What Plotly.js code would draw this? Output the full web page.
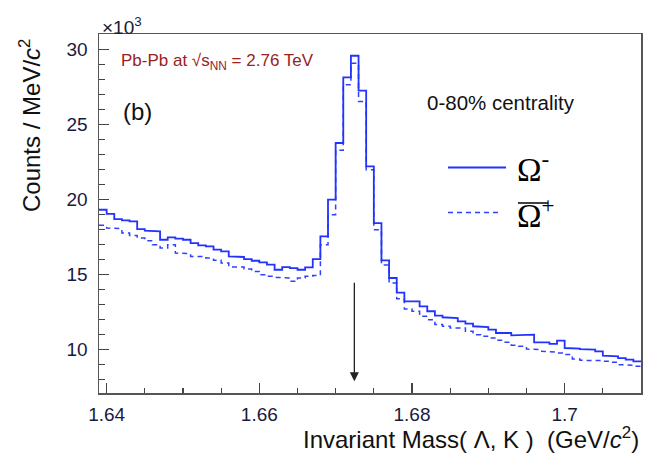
<!DOCTYPE html>
<html>
<head>
<meta charset="utf-8">
<script src="https://cdn.plot.ly/plotly-3.0.1.min.js"></script>
<style>html,body{margin:0;padding:0;background:#fff;} #chart{width:645px;height:453px;}</style>
</head>
<body>
<div id="chart"></div>
<script>
// Invariant mass bin centres (GeV/c^2), bin width 1 MeV
const massBins = [1.6395,1.6405,1.6415,1.6425,1.6435,1.6445,1.6455,1.6465,1.6475,1.6485,
  1.6495,1.6505,1.6515,1.6525,1.6535,1.6545,1.6555,1.6565,1.6575,1.6585,
  1.6595,1.6605,1.6615,1.6625,1.6635,1.6645,1.6655,1.6665,1.6675,1.6685,
  1.6695,1.6705,1.6715,1.6725,1.6735,1.6745,1.6755,1.6765,1.6775,1.6785,
  1.6795,1.6805,1.6815,1.6825,1.6835,1.6845,1.6855,1.6865,1.6875,1.6885,
  1.6895,1.6905,1.6915,1.6925,1.6935,1.6945,1.6955,1.6965,1.6975,1.6985,
  1.6995,1.7005,1.7015,1.7025,1.7035,1.7045,1.7055,1.7065,1.7075,1.7085,1.7095];
const binWidth = 0.001;
// Omega^- counts per MeV/c^2
const omegaMinus = [19330,19050,18710,18620,18560,18040,17930,17890,17330,17490,
  17400,17330,17110,16960,16890,16670,16560,16220,16180,16040,
  15930,15820,15670,15330,15510,15440,15330,15490,16040,17560,
  20000,23780,28160,29600,27270,22220,18440,15950,14780,13800,
  13220,13220,12890,12560,12270,12160,12110,11890,11730,11560,
  11510,11330,11110,11110,10950,11000,11000,10490,10490,10380,
  10600,10110,10070,10040,10000,9890,9600,9560,9440,9330,9220];
// anti-Omega^+ counts per MeV/c^2
const omegaPlusBar = [18290,18110,18070,17780,17620,17440,17270,17000,16780,17000,
  16440,16400,16220,16220,16110,15960,15780,15520,15510,15380,
  15220,15000,14890,14820,14780,14560,14780,14890,14950,17000,
  19000,23300,27670,29100,26550,22000,18000,15650,14440,13400,
  12710,12560,12220,12000,11670,11560,11440,11440,11220,11000,
  10890,10780,10620,10500,10300,10220,10040,10000,9890,9840,
  9780,9670,9380,9290,9270,9270,9220,9160,9000,8960,8890];
const xTickVals = [1.64, 1.66, 1.68, 1.7];
const xTickText = ['1.64', '1.66', '1.68', '1.7'];
const yTickVals = [10000, 15000, 20000, 25000, 30000];
const yTickText = ['10', '15', '20', '25', '30'];
const omegaMass = 1.67245;

function stepPath(centres, values, w) {
  const xs = [], ys = [];
  for (let i = 0; i < centres.length; i++) {
    xs.push(centres[i] - w / 2, centres[i] + w / 2);
    ys.push(values[i], values[i]);
  }
  return {x: xs, y: ys};
}

const sMinus = stepPath(massBins, omegaMinus, binWidth);
const sPlus = stepPath(massBins, omegaPlusBar, binWidth);

const font = 'Liberation Sans, Arial, Helvetica, sans-serif';
const serif = 'Liberation Serif, Times New Roman, serif';
const blue = '#2233ff';

const traces = [
  {x: sPlus.x, y: sPlus.y, type: 'scatter', mode: 'lines', name: 'anti-Omega+',
   line: {color: '#3040ff', width: 1.5, dash: '5px,4px', shape: 'linear'}, showlegend: false, hoverinfo: 'skip'},
  {x: sMinus.x, y: sMinus.y, type: 'scatter', mode: 'lines', name: 'Omega-',
   line: {color: blue, width: 1.8, shape: 'linear'}, showlegend: false, hoverinfo: 'skip'}
];

function px(p) { return (p - 99) / 542; }
function py(p) { return (393 - p) / 359; }

const layout = {
  width: 645, height: 453,
  margin: {l: 99, r: 4, t: 34, b: 60},
  paper_bgcolor: '#fff', plot_bgcolor: '#fff',
  showlegend: false,
  font: {family: font, color: '#1a1a33', size: 19},
  xaxis: {
    range: [1.639, 1.71], showgrid: false, zeroline: false,
    showline: true, linecolor: '#555', linewidth: 1.5, mirror: true,
    ticks: 'inside', ticklen: 10, tickwidth: 1.2, tickcolor: '#444',
    tickvals: xTickVals, ticktext: xTickText, ticklabelstandoff: 4,
    tickfont: {family: font, size: 19, color: '#1a1a40'},
    minor: {dtick: 0.005, ticks: 'inside', ticklen: 5, tickwidth: 1.2, tickcolor: '#444', showgrid: false}
  },
  yaxis: {
    range: [7110, 31050], showgrid: false, zeroline: false,
    showline: true, linecolor: '#555', linewidth: 1.5, mirror: true,
    ticks: 'inside', ticklen: 10, tickwidth: 1.2, tickcolor: '#444',
    tickvals: yTickVals, ticktext: yTickText, ticklabelstandoff: 6,
    tickfont: {family: font, size: 19, color: '#1a1a40'},
    minor: {dtick: 1000, ticks: 'inside', ticklen: 6, tickwidth: 1.2, tickcolor: '#444', showgrid: false}
  },
  shapes: [
    {type: 'line', xref: 'paper', yref: 'paper', x0: px(448), x1: px(506), y0: py(167.5), y1: py(167.5),
     line: {color: blue, width: 1.8}},
    {type: 'line', xref: 'paper', yref: 'paper', x0: px(448), x1: px(502), y0: py(212.5), y1: py(212.5),
     line: {color: '#3040ff', width: 1.5, dash: '5px,4px'}},
    {type: 'line', xref: 'paper', yref: 'paper', x0: px(518), x1: px(548), y0: py(203), y1: py(203),
     line: {color: '#000', width: 1.5}}
  ],
  annotations: [
    {xref: 'paper', yref: 'paper', x: px(100), y: py(26), xanchor: 'left', yanchor: 'middle', showarrow: false,
     text: '×10<sup>3</sup>', font: {family: font, size: 19, color: '#1a1a33'}},
    {xref: 'paper', yref: 'paper', x: px(119), y: py(62), xanchor: 'left', yanchor: 'middle', showarrow: false,
     text: 'Pb-Pb at √s<sub>NN</sub> = 2.76 TeV', font: {family: font, size: 17, color: '#992222'}},
    {xref: 'paper', yref: 'paper', x: px(121), y: py(111), xanchor: 'left', yanchor: 'middle', showarrow: false,
     text: '(b)', font: {family: font, size: 24, color: '#111'}},
    {xref: 'paper', yref: 'paper', x: px(425), y: py(102), xanchor: 'left', yanchor: 'middle', showarrow: false,
     text: '0-80% centrality', font: {family: font, size: 20.5, color: '#111'}},
    {xref: 'paper', yref: 'paper', x: px(515), y: py(167), xanchor: 'left', yanchor: 'middle', showarrow: false,
     text: 'Ω<sup>-</sup>', font: {family: serif, size: 33, color: '#000'}},
    {xref: 'paper', yref: 'paper', x: px(515), y: py(213), xanchor: 'left', yanchor: 'middle', showarrow: false,
     text: 'Ω<sup>+</sup>', font: {family: serif, size: 33, color: '#000'}},
    {xref: 'paper', yref: 'paper', x: 1.0, y: py(438), xanchor: 'right', yanchor: 'middle', showarrow: false,
     text: 'Invariant Mass( Λ, K )  (GeV/<i>c</i><sup>2</sup>)', font: {family: font, size: 24, color: '#111'}},
    {xref: 'paper', yref: 'paper', x: px(30), y: py(126), xanchor: 'center', yanchor: 'middle', showarrow: false,
     textangle: -90, text: 'Counts / MeV/<i>c</i><sup>2</sup>', font: {family: font, size: 24, color: '#111'}},
    {xref: 'x', yref: 'y', x: omegaMass, y: 7890, ax: 0, ay: -100, text: '', showarrow: true,
     arrowhead: 2, arrowsize: 1.4, arrowwidth: 1.3, arrowcolor: '#222', standoff: 0}
  ]
};

Plotly.newPlot('chart', traces, layout, {displayModeBar: false, staticPlot: true});
</script>
</body>
</html>
